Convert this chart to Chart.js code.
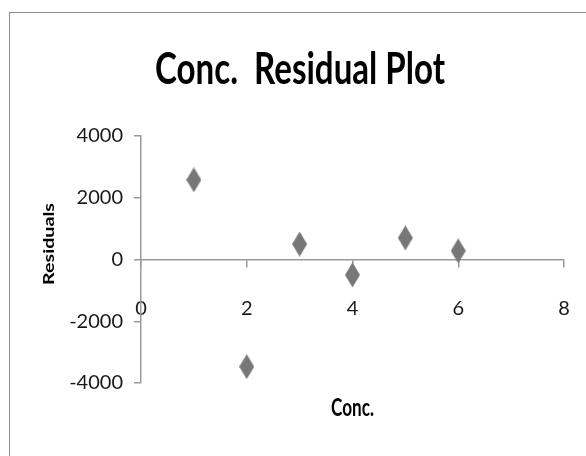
<!DOCTYPE html>
<html>
<head>
<meta charset="utf-8">
<script src="https://cdn.jsdelivr.net/npm/chart.js@4"></script>
<style>
  html, body { margin: 0; padding: 0; background: #fff; overflow: hidden; }
  #wrap { position: relative; width: 586px; height: 456px; }
  #frame { position: absolute; left: 9px; top: 12px; width: 620px; height: 520px;
           border: 1.5px solid #8c8c8c; box-sizing: border-box; }
  #c { position: absolute; left: 0; top: 0; }
</style>
</head>
<body>
<div id="wrap">
  <div id="frame"></div>
  <canvas id="c" width="586" height="456"></canvas>
</div>
<script>
// Residuals of the concentration fit
const concentrations = [1, 2, 3, 4, 5, 6];
const residuals = [2580, -3470, 500, -500, 700, 280];

// Axis ticks
const xTicks = [0, 2, 4, 6, 8];
const yTicks = [-4000, -2000, 0, 2000, 4000];

const chartTitle = 'Conc.  Residual Plot';
const xTitle = 'Conc.';
const yTitle = 'Residuals';

const AXIS_GREY = '#9a9a9a';
const TICK_FONT = { family: 'Lato, sans-serif', size: 20 };

// Tall diamond marker
function diamondMarker(w, h, color) {
  const c = document.createElement('canvas');
  c.width = w; c.height = h;
  const g = c.getContext('2d');
  g.fillStyle = color;
  g.beginPath();
  g.moveTo(w / 2, 0);
  g.lineTo(w, h / 2);
  g.lineTo(w / 2, h);
  g.lineTo(0, h / 2);
  g.closePath();
  g.fill();
  return c;
}

// Draws text squeezed or widened to a given width
function drawFitted(ctx, text, x, y, font, width) {
  ctx.save();
  ctx.font = font;
  const m = ctx.measureText(text).width;
  ctx.translate(x, y);
  ctx.scale(width / m, 1);
  ctx.fillText(text, 0, 0);
  ctx.restore();
}

const titlesPlugin = {
  id: 'titles',
  afterDraw(chart) {
    const { ctx, chartArea: a } = chart;
    ctx.save();
    ctx.fillStyle = '#000';
    ctx.textAlign = 'center';
    ctx.textBaseline = 'alphabetic';
    drawFitted(ctx, chartTitle, 300, 84, 'bold 43px Lato', 290);
    drawFitted(ctx, xTitle, (a.left + a.right) / 2, 416, 'bold 25px Lato', 43);
    ctx.translate(54, 244);
    ctx.rotate(-Math.PI / 2);
    drawFitted(ctx, yTitle, 0, 0, 'bold 16px Lato', 82);
    ctx.restore();
  }
};

const plainNumber = v => String(v);

new Chart(document.getElementById('c'), {
  type: 'scatter',
  data: {
    datasets: [{
      label: yTitle,
      data: concentrations.map((x, i) => ({ x, y: residuals[i] })),
      pointStyle: diamondMarker(15, 25, '#777777'),
      pointRadius: 8,
      pointHoverRadius: 8,
      backgroundColor: '#777777',
      borderColor: '#777777'
    }]
  },
  options: {
    responsive: false,
    devicePixelRatio: 1,
    animation: false,
    layout: { padding: { top: 136, right: 22, bottom: 73, left: 0 } },
    plugins: {
      legend: { display: false },
      title: { display: false },
      tooltip: { enabled: false }
    },
    scales: {
      x: {
        type: 'linear',
        min: xTicks[0],
        max: xTicks[xTicks.length - 1],
        position: { y: 0 },
        afterBuildTicks: s => { s.ticks = xTicks.map(v => ({ value: v })); },
        afterFit: s => { s.height = 0; s.paddingLeft = 0; s.paddingRight = 0; },
        grid: { display: true, drawOnChartArea: false, drawTicks: true, tickLength: 7, color: AXIS_GREY, lineWidth: 1.5 },
        border: { display: true, color: AXIS_GREY, width: 1.5 },
        ticks: { autoSkip: false, maxRotation: 0, padding: 30, color: '#1a1a1a', font: TICK_FONT, callback: plainNumber }
      },
      y: {
        type: 'linear',
        min: yTicks[0],
        max: yTicks[yTicks.length - 1],
        afterBuildTicks: s => { s.ticks = yTicks.map(v => ({ value: v })); },
        afterFit: s => { s.width = 141; },
        grid: { display: true, drawOnChartArea: false, drawTicks: true, tickLength: 7, color: AXIS_GREY, lineWidth: 1.5 },
        border: { display: true, color: AXIS_GREY, width: 1.5 },
        ticks: { autoSkip: false, padding: 11, color: '#1a1a1a', font: TICK_FONT, callback: plainNumber }
      }
    }
  },
  plugins: [titlesPlugin]
});
</script>
</body>
</html>
